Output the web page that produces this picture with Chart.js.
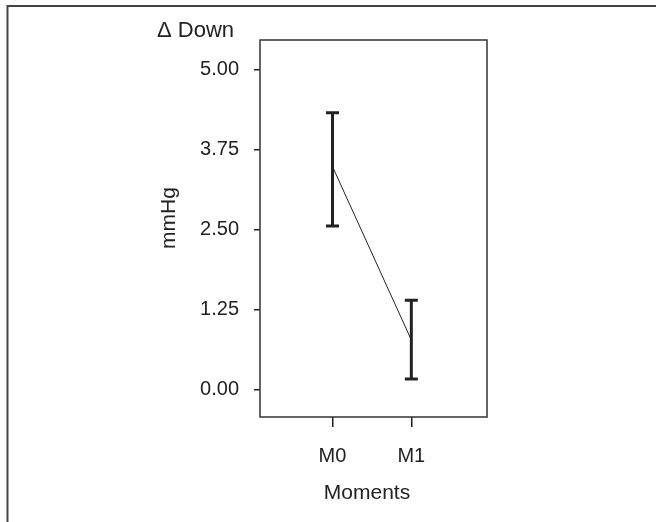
<!DOCTYPE html>
<html>
<head>
<meta charset="utf-8">
<script src="https://cdn.jsdelivr.net/npm/chart.js@4/dist/chart.umd.min.js"></script>
<style>
  html, body { margin: 0; padding: 0; background: #fff; }
  #wrap { width: 656px; height: 522px; }
</style>
</head>
<body>
<div id="wrap"><canvas id="chart" width="656" height="522"></canvas></div>
<script>
// data
var moments = ["M0", "M1"];
var means = [3.48, 0.77];
var upper = [4.32, 1.39];
var lower = [2.55, 0.16];
var yTicks = [0, 1.25, 2.5, 3.75, 5];

var ink = '#222';
var font = "'Liberation Sans', Arial, sans-serif";

var points = moments.map(function(m, i) { return { x: i, y: means[i] }; });

// error bars, outer frame and titles
var extras = {
    id: 'extras',
    afterDatasetsDraw: function(chart) {
        var ctx = chart.ctx;
        var xs = chart.scales.x, ys = chart.scales.y;
        var a = chart.chartArea;
        ctx.save();
        ctx.strokeStyle = ink;
        ctx.lineWidth = 3;
        for (var i = 0; i < moments.length; i++) {
            var px = xs.getPixelForValue(i);
            var top = ys.getPixelForValue(upper[i]);
            var bot = ys.getPixelForValue(lower[i]);
            ctx.beginPath();
            ctx.moveTo(px, top); ctx.lineTo(px, bot);
            ctx.moveTo(px - 6.5, top); ctx.lineTo(px + 6.5, top);
            ctx.moveTo(px - 6.5, bot); ctx.lineTo(px + 6.5, bot);
            ctx.stroke();
        }
        // plot box
        ctx.lineWidth = 1.5;
        ctx.strokeStyle = '#333';
        ctx.strokeRect(a.left, a.top, a.right - a.left, a.bottom - a.top);
        // outer frame (only top and left visible)
        ctx.lineWidth = 2;
        ctx.strokeStyle = '#444';
        ctx.beginPath();
        ctx.moveTo(7.5, 522); ctx.lineTo(7.5, 6); ctx.lineTo(656, 6);
        ctx.stroke();
        // titles
        ctx.fillStyle = ink;
        ctx.textBaseline = 'middle';
        ctx.font = '22px ' + font;
        ctx.textAlign = 'left';
        ctx.fillText('\u0394 Down', 157, 31);
        ctx.font = '21px ' + font;
        ctx.textAlign = 'center';
        ctx.fillText('Moments', 367, 493);
        ctx.translate(169, 218);
        ctx.rotate(-Math.PI / 2);
        ctx.fillText('mmHg', 0, 0);
        ctx.restore();
    }
};

new Chart(document.getElementById('chart'), {
    type: 'line',
    data: {
        datasets: [{
            data: points,
            borderColor: ink,
            borderWidth: 1,
            pointRadius: 0,
            fill: false,
            tension: 0
        }]
    },
    options: {
        responsive: false,
        animation: false,
        layout: { padding: { top: 40, right: 169, left: 0, bottom: 0 } },
        plugins: { legend: { display: false }, tooltip: { enabled: false } },
        scales: {
            x: {
                type: 'linear',
                min: -0.92,
                max: 1.96,
                afterFit: function(s) { s.height = 105; },
                afterBuildTicks: function(s) {
                    s.ticks = moments.map(function(m, i) { return { value: i }; });
                },
                grid: { display: true, drawOnChartArea: false, tickLength: 10, color: ink, lineWidth: 1.5 },
                border: { display: false },
                ticks: {
                    color: ink,
                    font: { family: font, size: 20 },
                    padding: 17,
                    maxRotation: 0,
                    callback: function(v) { return moments[v]; }
                }
            },
            y: {
                min: -0.433,
                max: 5.458,
                afterFit: function(s) { s.width = 260; },
                afterBuildTicks: function(s) {
                    s.ticks = yTicks.map(function(v) { return { value: v }; });
                },
                grid: { display: true, drawOnChartArea: false, tickLength: 6, color: ink, lineWidth: 1.5 },
                border: { display: false },
                ticks: {
                    color: ink,
                    font: { family: font, size: 20 },
                    padding: 15,
                    callback: function(v) { return v.toFixed(2); }
                }
            }
        }
    },
    plugins: [extras]
});
</script>
</body>
</html>
